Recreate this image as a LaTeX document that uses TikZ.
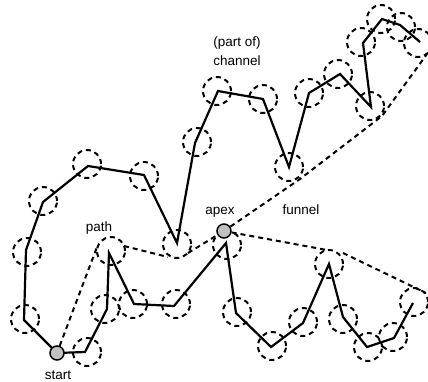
\documentclass[tikz,border=0pt]{standalone}
\usepackage{fontspec}
\setmainfont{Liberation Sans}
\definecolor{ptgray}{RGB}{192,192,192}
\begin{document}
\begin{tikzpicture}[x=1pt,y=-1pt,
  ring/.style={circle, draw, line width=2pt, dash pattern=on 5pt off 4pt, minimum size=28pt, inner sep=0pt},
  chain/.style={line width=2.2pt, line join=miter},
  fun/.style={line width=2pt, dash pattern=on 5pt off 4pt},
  endpt/.style={circle, draw, line width=1.5pt, fill=ptgray, minimum size=14pt, inner sep=0pt},
  lbl/.style={font=\fontsize{13.5}{16}\selectfont, inner sep=0pt}]
\useasboundingbox (0,0) rectangle (428,381);
% start
\coordinate (s) at (57,353);
% upper chain
\coordinate (u1) at (24,320);
\coordinate (u2) at (26,250);
\coordinate (u3) at (43,202);
\coordinate (u4) at (88,166);
\coordinate (u5) at (144,175);
\coordinate (u6) at (177,243);
\coordinate (u7) at (195,143);
\coordinate (u8) at (218,91);
\coordinate (u9) at (263,99);
\coordinate (u10) at (289,167);
\coordinate (u11) at (309,93);
\coordinate (u12) at (340,74);
\coordinate (u13) at (371,107);
\coordinate (u14) at (363,43);
\coordinate (u15) at (382,19);
\coordinate (u16) at (400,25);
\coordinate (u17) at (420,42);
% lower chain
\coordinate (l1) at (85,352);
\coordinate (l2) at (107,309);
\coordinate (l3) at (109,253);
\coordinate (l4) at (134,304);
\coordinate (l5) at (174,306);
\coordinate (l6) at (226,243);
\coordinate (l7) at (236,313);
\coordinate (l8) at (271,347);
\coordinate (l9) at (303,323);
\coordinate (l10) at (329,264);
\coordinate (l11) at (343,317);
\coordinate (l12) at (367,347);
\coordinate (l13) at (394,338);
\coordinate (l14) at (413,303);
% rings
\node[ring] (r-u1) at (25,319) {};
\node[ring] (r-u2) at (27,252) {};
\node[ring] (r-u3) at (43,201) {};
\node[ring] (r-u4) at (87,164) {};
\node[ring] (r-u5) at (144,176) {};
\node[ring] (r-u6) at (177,244) {};
\node[ring] (r-u7) at (197,142) {};
\node[ring] (r-u8) at (217,91) {};
\node[ring] (r-u9) at (263,99) {};
\node[ring] (r-u10) at (289,167) {};
\node[ring] (r-u11) at (309,93) {};
\node[ring] (r-u12) at (338,74) {};
\node[ring] (r-u13) at (370,106) {};
\node[ring] (r-u14) at (361,42) {};
\node[ring] (r-u15) at (381,19) {};
\node[ring] (r-u16) at (401,27) {};
\node[ring] (r-u17) at (418,43) {};
\node[ring] (r-l1) at (87,352) {};
\node[ring] (r-l2) at (105,309) {};
\node[ring] (r-l3) at (111,251) {};
\node[ring] (r-l4) at (133,304) {};
\node[ring] (r-l5) at (176,304) {};
\node[ring] (r-l6) at (227,245) {};
\node[ring] (r-l7) at (237,312) {};
\node[ring] (r-l8) at (272,346) {};
\node[ring] (r-l9) at (303,322) {};
\node[ring] (r-l10) at (329,264) {};
\node[ring] (r-l11) at (343,319) {};
\node[ring] (r-l12) at (368,347) {};
\node[ring] (r-l13) at (393,337) {};
\node[ring] (r-l14) at (414,302) {};
% chains
\draw[chain] (s) -- (u1) -- (u2) -- (u3) -- (u4) -- (u5) -- (u6) -- (u7) -- (u8) -- (u9) -- (u10) -- (u11) -- (u12) -- (u13) -- (u14) -- (u15) -- (u16) -- (u17);
\draw[chain] (s) -- (l1) -- (l2) -- (l3) -- (l4) -- (l5) -- (l6) -- (l7) -- (l8) -- (l9) -- (l10) -- (l11) -- (l12) -- (l13) -- (l14);
% path
\coordinate (p1) at (97,247);
\coordinate (p2) at (124,246);
\coordinate (p3) at (168,257);
\coordinate (p4) at (188,253);
% funnel
\coordinate (f1) at (300,179);
\coordinate (f2) at (382,116);
\coordinate (f3) at (427,54);
\coordinate (g1) at (327,250);
\coordinate (g2) at (343,253);
\coordinate (g3) at (426,293);
\node[endpt] (start) at (s) {};
\node[endpt] (apex) at (224,231) {};
\draw[fun] (start) -- (p1);
\draw[fun] (p2) -- (p3);
\draw[fun] (p4) -- (apex);
\draw[fun] (apex) -- (f1) -- (f2) -- (f3);
\draw[fun] (apex) -- (g1);
\draw[fun] (g2) -- (g3);
% labels
\node[lbl] (t-part) at (237,43) {(part of)};
\node[lbl] (t-chan) at (237,61) {channel};
\node[lbl] (t-path) at (99,228) {path};
\node[lbl] (t-apex) at (220,212) {apex};
\node[lbl] (t-fun) at (301,210) {funnel};
\node[lbl] (t-start) at (58,375) {start};
\end{tikzpicture}
\end{document}
